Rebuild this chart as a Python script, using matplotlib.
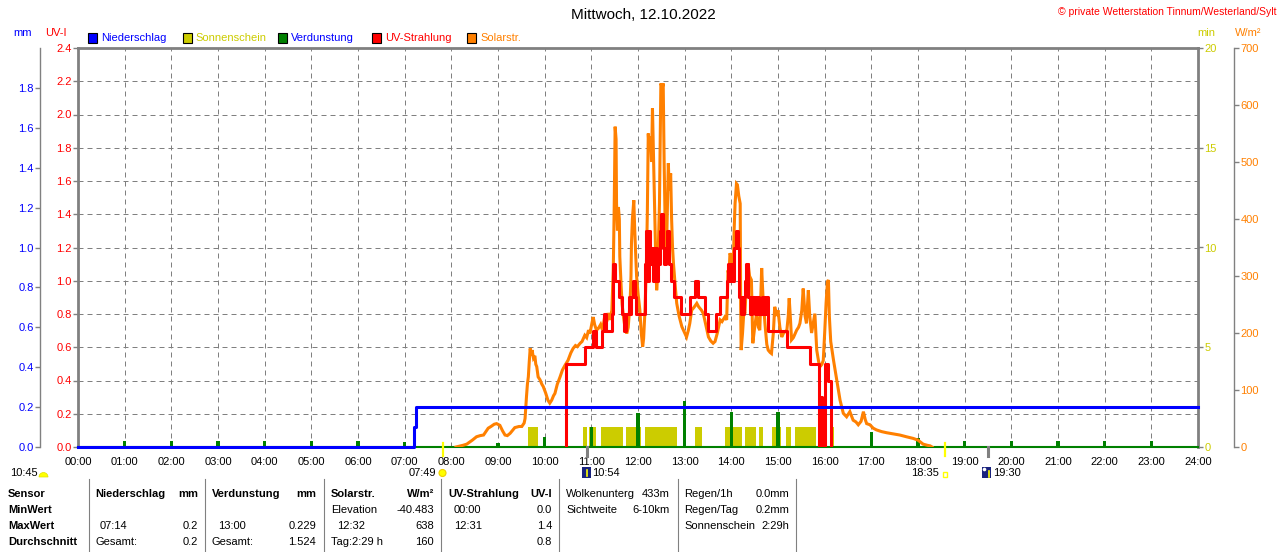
import matplotlib
matplotlib.use('Agg')
import matplotlib.pyplot as plt
from matplotlib.lines import Line2D
from matplotlib.patches import Rectangle, Circle, Wedge
import matplotlib.transforms as mtransforms
import numpy as np

plt.rcParams['font.family'] = ['Liberation Sans', 'DejaVu Sans']
plt.rcParams['font.size'] = 8

# ---------------- data ----------------
title = "Mittwoch, 12.10.2022"
copyright_txt = "© private Wetterstation Tinnum/Westerland/Sylt"

hours = list(range(25))
hour_labels = [f"{h:02d}:00" for h in hours]

legend_labels = ['Niederschlag', 'Sonnenschein', 'Verdunstung', 'UV-Strahlung', 'Solarstr.']

# Niederschlag (mm), step line
rain_t = [0.0, 7.20, 7.25, 24.0]
rain_mm = [0.0, 0.1, 0.2, 0.2]

# Verdunstung (mm) hourly
evap_t = [1, 2, 3, 4, 5, 6, 7, 9, 10, 11, 12, 13, 14, 15, 16, 17, 18, 19, 20, 21, 22, 23]
evap_mm = [0.028, 0.028, 0.028, 0.028, 0.028, 0.028, 0.027, 0.022, 0.049, 0.100, 0.172,
           0.229, 0.177, 0.177, 0.149, 0.074, 0.047, 0.028, 0.028, 0.028, 0.028, 0.028]

# Sonnenschein (min) segments
sun_start = [9.64, 10.83, 10.96, 11.21, 11.74, 12.15, 13.22, 13.86, 14.29, 14.59, 14.87, 15.17, 15.36, 16.13]
sun_end   = [9.85, 10.90, 11.11, 11.67, 12.06, 12.83, 13.38, 14.22, 14.53, 14.67, 15.06, 15.27, 15.81, 16.20]
sun_min   = [1.0] * len(sun_start)

# Solarstrahlung (W/m2)
solar_t = [8.10, 8.15, 8.25, 8.33, 8.45, 8.54, 8.62, 8.69, 8.75, 8.79, 8.85, 8.92, 8.97, 9.04, 9.10,
           9.15, 9.20, 9.26, 9.32, 9.36, 9.45, 9.51, 9.56, 9.58, 9.61, 9.63, 9.65, 9.67, 9.69, 9.71,
           9.73, 9.76, 9.79, 9.81, 9.83, 9.86, 9.90, 9.94, 9.97, 10.02, 10.07, 10.11, 10.15, 10.19, 10.22,
           10.27, 10.33, 10.38, 10.44, 10.50, 10.56, 10.61, 10.66, 10.70, 10.76, 10.80, 10.86, 10.90, 10.94, 10.97,
           11.00, 11.04, 11.07, 11.11, 11.15, 11.20, 11.24, 11.29, 11.33, 11.36, 11.40, 11.44, 11.47, 11.49, 11.51,
           11.53, 11.54, 11.56, 11.58, 11.60, 11.61, 11.64, 11.66, 11.69, 11.72, 11.76, 11.79, 11.83, 11.85, 11.86,
           11.88, 11.91, 11.93, 11.95, 11.97, 12.00, 12.04, 12.07, 12.10, 12.12, 12.15, 12.18, 12.20, 12.22, 12.24,
           12.27, 12.29, 12.31, 12.33, 12.36, 12.38, 12.40, 12.42, 12.44, 12.46, 12.48, 12.49, 12.52, 12.54, 12.56,
           12.58, 12.60, 12.62, 12.65, 12.67, 12.70, 12.72, 12.74, 12.76, 12.80, 12.83, 12.88, 12.94, 13.00, 13.04,
           13.08, 13.11, 13.15, 13.20, 13.26, 13.30, 13.36, 13.40, 13.45, 13.51, 13.56, 13.61, 13.65, 13.70, 13.76,
           13.80, 13.86, 13.90, 13.93, 13.95, 13.97, 14.00, 14.04, 14.06, 14.08, 14.11, 14.13, 14.16, 14.19, 14.20,
           14.21, 14.24, 14.27, 14.29, 14.32, 14.36, 14.39, 14.43, 14.46, 14.50, 14.54, 14.58, 14.61, 14.65, 14.68,
           14.72, 14.76, 14.79, 14.83, 14.86, 14.90, 14.93, 14.97, 15.00, 15.04, 15.08, 15.12, 15.19, 15.22, 15.24,
           15.27, 15.29, 15.33, 15.40, 15.44, 15.47, 15.51, 15.54, 15.58, 15.61, 15.65, 15.68, 15.72, 15.76, 15.79,
           15.83, 15.87, 15.90, 15.94, 15.97, 16.00, 16.03, 16.06, 16.08, 16.10, 16.13, 16.19, 16.26, 16.33, 16.40,
           16.47, 16.54, 16.61, 16.67, 16.72, 16.78, 16.83, 16.87, 16.90, 16.97, 17.04, 17.11, 17.22, 17.33, 17.47,
           17.61, 17.75, 17.90, 18.00, 18.11, 18.20, 18.26, 18.30]
solar_w = [0, 1, 3, 5, 12, 18, 20, 21, 28, 33, 36, 40, 41, 38, 28,
           21, 20, 24, 30, 34, 36, 36, 42, 50, 88, 110, 123, 150, 173, 160,
           170, 156, 160, 145, 141, 123, 118, 110, 106, 95, 82, 77, 82, 90, 94,
           110, 123, 135, 144, 152, 165, 173, 178, 176, 182, 185, 196, 192, 205, 199,
           212, 228, 215, 205, 208, 215, 205, 231, 220, 235, 223, 240, 310, 420, 562,
           540, 427, 380, 421, 400, 334, 280, 250, 228, 210, 199, 210, 252, 300, 357,
           400, 433, 380, 340, 299, 270, 240, 200, 176, 190, 240, 320, 410, 550, 520,
           545, 500, 594, 520, 416, 330, 275, 300, 360, 427, 560, 638, 630, 638, 500,
           400, 328, 380, 498, 450, 480, 400, 350, 322, 280, 252, 230, 211, 200, 193,
           205, 217, 240, 245, 252, 246, 240, 234, 215, 193, 186, 182, 185, 200, 223,
           220, 228, 223, 310, 300, 340, 334, 310, 380, 427, 462, 460, 440, 427, 250,
           170, 200, 240, 234, 280, 322, 300, 293, 182, 210, 234, 210, 205, 314, 260,
           217, 180, 170, 166, 164, 200, 246, 230, 240, 210, 193, 200, 205, 230, 261,
           220, 188, 192, 205, 210, 217, 240, 278, 230, 217, 275, 230, 200, 220, 234,
           170, 150, 141, 145, 152, 200, 252, 290, 293, 230, 185, 152, 117, 82, 59,
           53, 62, 47, 44, 39, 45, 62, 48, 41, 39, 33, 30, 27, 25, 23,
           21, 18, 15, 12, 5, 3, 2, 0]

# UV-Index (step line)
uv_t = [10.45, 10.45, 10.86, 11.04, 11.09, 11.22, 11.28, 11.32, 11.44, 11.47, 11.50, 11.60, 11.65, 11.71,
        11.75, 11.80, 11.83, 11.86, 11.89, 11.93, 11.96, 12.14, 12.17, 12.20, 12.23, 12.26, 12.29, 12.32,
        12.36, 12.40, 12.43, 12.47, 12.50, 12.53, 12.56, 12.60, 12.63, 12.66, 12.70, 12.77, 12.93, 13.11,
        13.22, 13.28, 13.43, 13.50, 13.68, 13.75, 13.90, 13.93, 13.96, 13.99, 14.02, 14.05, 14.09, 14.14,
        14.17, 14.20, 14.22, 14.25, 14.27, 14.29, 14.32, 14.36, 14.40, 14.45, 14.50, 14.55, 14.60, 14.65,
        14.70, 14.74, 14.79, 15.19, 15.69, 15.88, 15.92, 15.94, 16.00, 16.08, 16.14]
uv_i = [0.0, 0.5, 0.6, 0.7, 0.6, 0.7, 0.8, 0.7, 0.8, 1.1, 1.0, 0.9, 0.8, 0.7,
        0.8, 0.9, 0.8, 0.9, 1.0, 0.9, 0.8, 1.1, 1.3, 1.0, 1.3, 1.1, 1.2, 1.0,
        1.2, 1.0, 1.1, 1.3, 1.4, 1.2, 1.1, 1.2, 1.3, 1.1, 1.0, 0.9, 0.8, 0.9,
        1.0, 0.9, 0.8, 0.7, 0.8, 0.9, 1.0, 1.1, 1.0, 1.1, 1.0, 1.2, 1.3, 1.2,
        0.9, 0.8, 0.9, 0.8, 0.9, 1.0, 1.1, 0.9, 0.8, 0.9, 0.8, 0.9, 0.8, 0.9,
        0.8, 0.9, 0.7, 0.6, 0.5, 0.0, 0.3, 0.0, 0.5, 0.4, 0.0]

# Sun / moon events (h)
sunrise, sunset = 7 + 49 / 60, 18 + 35 / 60
moonset, moonrise = 10 + 54 / 60, 19 + 30 / 60

# Table
table_rows = ['Sensor', 'MinWert', 'MaxWert', 'Durchschnitt']

# ---------------- colours ----------------
BLUE, YEL, GREEN, RED, ORANGE, GRAY = '#0000ff', '#cccc00', '#008000', '#ff0000', '#ff8000', '#808080'
legend_face = [BLUE, YEL, GREEN, RED, ORANGE]
legend_txt = [BLUE, YEL, BLUE, RED, ORANGE]

W, H = 1280, 552
fig = plt.figure(figsize=(W / 100, H / 100), dpi=100)
fig.patch.set_facecolor('white')
rect = [78 / W, 1 - 447 / H, 1120 / W, 399 / H]
PT = 0.72  # points per pixel


def fx(x):
    return x / W


def fy(y):
    return 1 - y / H


# host axes: grid, frame, x labels, UV ticks
ax = fig.add_axes(rect, label='host')
ax.set_zorder(0)
ax.set_xlim(0, 24)
ax.set_ylim(0, 2.4)
for s in ['left', 'top', 'right']:
    ax.spines[s].set_color(GRAY)
    ax.spines[s].set_linewidth(2.0)
ax.spines['bottom'].set_visible(False)
ax.set_xticks(hours)
ax.set_xticklabels(hour_labels)
ax.tick_params(axis='x', length=0, pad=7, labelsize=8)
uv_ticks = np.round(np.arange(0, 2.41, 0.2), 1)
ax.set_yticks(uv_ticks)
ax.set_yticklabels([f"{v:.1f}" for v in uv_ticks])
ax.tick_params(axis='y', colors=GRAY, labelcolor=RED, length=5 * PT, width=1, pad=1, labelsize=8)
for h in hours[1:-1]:
    ax.axvline(h, color=GRAY, lw=0.72, ls=(0, (5, 4)))
for v in uv_ticks[1:-1]:
    ax.axhline(v, color=GRAY, lw=0.72, ls=(0, (5, 4)))


def overlay(label, z, ylim):
    a = fig.add_axes(rect, label=label, sharex=ax)
    a.set_zorder(z)
    a.patch.set_visible(False)
    a.set_ylim(*ylim)
    a.xaxis.set_visible(False)
    for s in a.spines.values():
        s.set_visible(False)
    a.set_yticks([])
    return a


# Sonnenschein (min axis, right)
ax_min = overlay('min', 1, (0, 20))
ax_min.bar(sun_start, sun_min, width=np.subtract(sun_end, sun_start), align='edge', color=YEL, lw=0)
ax_min.yaxis.tick_right()
ax_min.set_yticks([0, 5, 10, 15, 20])
ax_min.tick_params(axis='y', colors=GRAY, labelcolor=YEL, length=5 * PT, width=1, pad=1, labelsize=8)

# Verdunstung bars
ax_ev = overlay('evap', 2, (0, 2.0))
ax_ev.bar(evap_t, evap_mm, width=0.07, color=GREEN, lw=0)
ax_ev.axhline(0, color=GREEN, lw=1.5, clip_on=False)

# Solarstrahlung
ax_w = overlay('solar', 3, (0, 700))
ax_w.plot(solar_t, solar_w, color=ORANGE, lw=2.2, solid_joinstyle='miter')
ax_w.spines['right'].set_visible(True)
ax_w.spines['right'].set_position(('outward', 36 * PT))
ax_w.spines['right'].set_color(GRAY)
ax_w.spines['right'].set_linewidth(1.0)
ax_w.yaxis.tick_right()
ax_w.set_yticks(range(0, 701, 100))
ax_w.tick_params(axis='y', colors=GRAY, labelcolor=ORANGE, length=5 * PT, width=1, pad=1, labelsize=8)

# UV line
ax_uv = overlay('uv', 4, (0, 2.4))
ax_uv.plot(uv_t, uv_i, drawstyle='steps-post', color=RED, lw=2.2)

# Niederschlag line + mm axis
ax_mm = overlay('mm', 5, (0, 2.0))
ax_mm.plot(rain_t, rain_mm, drawstyle='steps-post', color=BLUE, lw=2.2, clip_on=False)
ax_mm.spines['left'].set_visible(True)
ax_mm.spines['left'].set_position(('outward', 38 * PT))
ax_mm.spines['left'].set_color(GRAY)
ax_mm.spines['left'].set_linewidth(1.0)
mm_ticks = np.round(np.arange(0, 1.81, 0.2), 1)
ax_mm.set_yticks(mm_ticks)
ax_mm.set_yticklabels([f"{v:.1f}" for v in mm_ticks])
ax_mm.tick_params(axis='y', colors=GRAY, labelcolor=BLUE, length=5 * PT, width=1, pad=1, labelsize=8)

# sun/moon markers at axis
trans = mtransforms.blended_transform_factory(ax_mm.transData, ax_mm.transAxes)
for t in [sunrise, sunset]:
    ax_mm.add_line(Line2D([t, t], [-9 / 399, 4 / 399], color='#ffff00', lw=1.6, transform=trans, clip_on=False))
for t in [moonset, moonrise]:
    ax_mm.add_line(Line2D([t, t], [-9 / 399, 0], color=GRAY, lw=2.2, transform=trans, clip_on=False))

# ---------------- texts ----------------
fig.text(fx(643), fy(15), title, ha='center', va='center', fontsize=11)
fig.text(fx(1277), fy(12), copyright_txt, ha='right', va='center', fontsize=7.5, color=RED)
fig.text(fx(22.5), fy(33), 'mm', ha='center', va='center', color=BLUE, fontsize=8)
fig.text(fx(56), fy(33), 'UV-I', ha='center', va='center', color=RED, fontsize=8)
fig.text(fx(1206), fy(33), 'min', ha='center', va='center', color=YEL, fontsize=8)
fig.text(fx(1248), fy(33), 'W/m²', ha='center', va='center', color=ORANGE, fontsize=8)

# legend
for i, (lab, fc, tc) in enumerate(zip(legend_labels, legend_face, legend_txt)):
    x0 = 88 + i * 94.8
    fig.add_artist(Rectangle((fx(x0), fy(43)), 9 / W, 10 / H, transform=fig.transFigure,
                             facecolor=fc, edgecolor='black', lw=0.8))
    fig.text(fx(x0 + 13), fy(38), lab, ha='left', va='center', color=tc, fontsize=8)

# event labels under x axis
ix = fig.dpi_scale_trans


def pin(x, y):
    return (x / 100, (H - y) / 100)


fig.text(fx(10), fy(473), '10:45', ha='left', va='center', fontsize=8)
fig.add_artist(Wedge(pin(43.5, 477), 0.045, 0, 180, transform=ix, facecolor='#ffff00', edgecolor='#e0e000', lw=0.5))
fig.text(fx(436), fy(473), '07:49', ha='right', va='center', fontsize=8)
fig.add_artist(Circle(pin(442.5, 473), 0.035, transform=ix, facecolor='#ffff00', edgecolor='#f0d000', lw=0.8))
fig.add_artist(Rectangle(pin(582, 478), 0.09, 0.11, transform=ix, facecolor='#1a237e', edgecolor='none'))
fig.add_artist(Line2D([5.865, 5.865], [(H - 476) / 100, (H - 470) / 100], transform=ix, color='#ffff00', lw=1.2))
fig.text(fx(592), fy(473), '10:54', ha='left', va='center', fontsize=8)
fig.text(fx(939), fy(473), '18:35', ha='right', va='center', fontsize=8)
fig.add_artist(Rectangle(pin(942.5, 476.5), 0.045, 0.045, transform=ix, facecolor='white', edgecolor='#ffff00', lw=1.0))
fig.add_artist(Rectangle(pin(982, 478), 0.09, 0.11, transform=ix, facecolor='#1a237e', edgecolor='none'))
fig.add_artist(Line2D([9.885, 9.885], [(H - 477) / 100, (H - 471) / 100], transform=ix, color='#ffff00', lw=1.2))
fig.add_artist(Circle(pin(984.5, 469.5), 0.018, transform=ix, facecolor='white', edgecolor='none'))
fig.text(fx(993), fy(473), '19:30', ha='left', va='center', fontsize=8)

# ---------------- table ----------------
row_y = [494, 510, 526, 542]
for lab, y in zip(table_rows, row_y):
    fig.text(fx(8), fy(y), lab, ha='left', va='center', fontweight='bold', fontsize=8)

for xs in [89, 205, 323.5, 441, 559, 678, 795.5]:
    fig.add_artist(Line2D([fx(xs), fx(xs)], [fy(479), fy(552)], transform=fig.transFigure, color=GRAY, lw=0.8))


def tl(x, y, s, bold=False):
    fig.text(fx(x), fy(y), s, ha='left', va='center', fontsize=8, fontweight='bold' if bold else 'normal')


def tr(x, y, s, bold=False):
    fig.text(fx(x), fy(y), s, ha='right', va='center', fontsize=8, fontweight='bold' if bold else 'normal')


tl(95, 494, 'Niederschlag', True); tr(198, 494, 'mm', True)
tl(100, 526, '07:14'); tr(198, 526, '0.2')
tl(95, 542, 'Gesamt:'); tr(198, 542, '0.2')

tl(212, 494, 'Verdunstung', True); tr(316, 494, 'mm', True)
tl(218, 526, '13:00'); tr(316, 526, '0.229')
tl(212, 542, 'Gesamt:'); tr(316, 542, '1.524')

tl(331, 494, 'Solarstr.', True); tr(434, 494, 'W/m²', True)
tl(331, 510, 'Elevation'); tr(434, 510, '-40.483')
tl(337, 526, '12:32'); tr(434, 526, '638')
tl(331, 542, 'Tag:2:29 h'); tr(434, 542, '160')

tl(448, 494, 'UV-Strahlung', True); tr(552, 494, 'UV-I', True)
tl(454, 510, '00:00'); tr(552, 510, '0.0')
tl(454, 526, '12:31'); tr(552, 526, '1.4')
tr(552, 542, '0.8')

tl(566, 494, 'Wolkenunterg'); tr(670, 494, '433m')
tl(566, 510, 'Sichtweite'); tr(670, 510, '6-10km')

tl(684, 494, 'Regen/1h'); tr(789, 494, '0.0mm')
tl(684, 510, 'Regen/Tag'); tr(789, 510, '0.2mm')
tl(684, 526, 'Sonnenschein'); tr(789, 526, '2:29h')

fig.savefig('out.png', dpi=100, facecolor='white')
